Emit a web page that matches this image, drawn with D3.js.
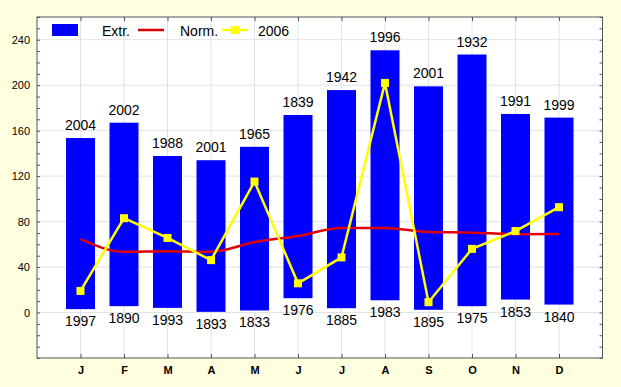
<!DOCTYPE html>
<html>
<head>
<meta charset="utf-8">
<script src="https://cdn.jsdelivr.net/npm/d3@7"></script>
<style>
  body { margin: 0; background: #ffffe0; }
  svg { display: block; font-family: "Liberation Sans", Arial, sans-serif; }
</style>
</head>
<body>
<script>
// data
var months = ['J', 'F', 'M', 'A', 'M', 'J', 'J', 'A', 'S', 'O', 'N', 'D'];
var extrMax = [153.5, 167, 137.7, 134, 145.8, 173.8, 195.7, 230.7, 199, 227, 174.7, 171.5];
var extrMin = [3, 5.6, 4.1, 0.6, 1.8, 12.6, 3.8, 10.8, 2.4, 5.6, 11.4, 7];
var maxYears = ['2004', '2002', '1988', '2001', '1965', '1839', '1942', '1996', '2001', '1932', '1991', '1999'];
var minYears = ['1997', '1890', '1993', '1893', '1833', '1976', '1885', '1983', '1895', '1975', '1853', '1840'];
var norm = [64.5, 53.4, 54, 53.4, 62, 67.4, 74.4, 74.4, 70.9, 70.3, 68.9, 69.1];
var y2006 = [19, 83, 65.6, 46.1, 115.2, 25.7, 48.5, 202, 9.1, 56, 71.7, 92.7];
var yTicks = [0, 40, 80, 120, 160, 200, 240];

var width = 621, height = 387;
var padL = 37, padR = 602.5, padT = 17, padB = 358;

var svg = d3.select('body').append('svg')
  .attr('width', width)
  .attr('height', height);

var idx = d3.range(months.length);

var x = d3.scalePoint().domain(idx).range([padL, padR]).padding(1);
var y = d3.scaleLinear().domain([-40, 260]).range([padB, padT]);

// plot background
svg.append('rect')
  .attr('x', padL).attr('y', padT)
  .attr('width', padR - padL).attr('height', padB - padT)
  .attr('fill', '#fff');

// grid
svg.append('g').selectAll('line').data(yTicks).enter().append('line')
  .attr('x1', padL).attr('x2', padR)
  .attr('y1', function(d) { return y(d); })
  .attr('y2', function(d) { return y(d); })
  .attr('stroke', '#e2e2e2');
svg.append('g').selectAll('line').data(idx).enter().append('line')
  .attr('y1', padT).attr('y2', padB)
  .attr('x1', function(d) { return x(d); })
  .attr('x2', function(d) { return x(d); })
  .attr('stroke', '#e2e2e2');

// axes (ticks pointing inward)
var minor = d3.range(-40, 261, 10);
var yl = d3.axisLeft(y).tickValues(yTicks).tickSize(0).tickPadding(7);
svg.append('g').attr('transform', 'translate(' + padL + ',0)').call(yl)
  .call(function(g) {
    g.select('.domain').remove();
    g.selectAll('text').attr('font-size', 11).attr('fill', '#000')
      .attr('font-family', '"Liberation Sans", Arial, sans-serif');
  });
svg.append('g').attr('transform', 'translate(' + padL + ',0)')
  .call(d3.axisRight(y).tickValues(minor).tickSize(3).tickFormat(''))
  .call(function(g) { g.select('.domain').remove(); g.selectAll('line').attr('stroke', '#555'); });
svg.append('g').attr('transform', 'translate(' + padR + ',0)')
  .call(d3.axisLeft(y).tickValues(minor).tickSize(3).tickFormat(''))
  .call(function(g) { g.select('.domain').remove(); g.selectAll('line').attr('stroke', '#555'); });

svg.append('g').attr('transform', 'translate(0,' + padB + ')')
  .call(d3.axisBottom(x).tickSize(0).tickPadding(8).tickFormat(function(d) { return months[d]; }))
  .call(function(g) {
    g.select('.domain').remove();
    g.selectAll('text').attr('font-size', 11).attr('font-weight', 'bold').attr('fill', '#000')
      .attr('font-family', '"Liberation Sans", Arial, sans-serif');
  });
svg.append('g').attr('transform', 'translate(0,' + padB + ')')
  .call(d3.axisTop(x).tickSize(4).tickFormat(''))
  .call(function(g) { g.select('.domain').remove(); g.selectAll('line').attr('stroke', '#555'); });
svg.append('g').attr('transform', 'translate(0,' + padT + ')')
  .call(d3.axisBottom(x).tickSize(4).tickFormat(''))
  .call(function(g) { g.select('.domain').remove(); g.selectAll('line').attr('stroke', '#555'); });

// bars
var barW = 29;
svg.append('g').selectAll('rect').data(idx).enter().append('rect')
  .attr('x', function(d) { return x(d) - barW / 2; })
  .attr('y', function(d) { return y(extrMax[d]); })
  .attr('width', barW)
  .attr('height', function(d) { return y(extrMin[d]) - y(extrMax[d]); })
  .attr('fill', '#0000ff');

// year labels
svg.append('g').selectAll('text').data(idx).enter().append('text')
  .attr('x', function(d) { return x(d); })
  .attr('y', function(d) { return y(extrMax[d]) - 8; })
  .attr('text-anchor', 'middle')
  .attr('font-size', 14)
  .text(function(d) { return maxYears[d]; });
svg.append('g').selectAll('text').data(idx).enter().append('text')
  .attr('x', function(d) { return x(d); })
  .attr('y', function(d) { return y(extrMin[d]) + 17; })
  .attr('text-anchor', 'middle')
  .attr('font-size', 14)
  .text(function(d) { return minYears[d]; });

// norm line
var normLine = d3.line()
  .x(function(d) { return x(d); })
  .y(function(d) { return y(norm[d]); })
  .curve(d3.curveMonotoneX);
svg.append('path').datum(idx)
  .attr('d', normLine)
  .attr('fill', 'none')
  .attr('stroke', '#e00000')
  .attr('stroke-width', 2.5);

// 2006 line
var line06 = d3.line()
  .x(function(d) { return x(d); })
  .y(function(d) { return y(y2006[d]); });
svg.append('path').datum(idx)
  .attr('d', line06)
  .attr('fill', 'none')
  .attr('stroke', '#ffff00')
  .attr('stroke-width', 2.5);
svg.append('g').selectAll('rect').data(idx).enter().append('rect')
  .attr('x', function(d) { return x(d) - 4; })
  .attr('y', function(d) { return y(y2006[d]) - 4; })
  .attr('width', 8).attr('height', 8)
  .attr('fill', '#ffff00');

// frame
svg.append('rect')
  .attr('x', padL).attr('y', padT)
  .attr('width', padR - padL).attr('height', padB - padT)
  .attr('fill', 'none')
  .attr('stroke', '#555')
  .attr('stroke-width', 1);

// legend
var lg = svg.append('g').attr('font-size', 14);
lg.append('rect').attr('x', 52).attr('y', 24).attr('width', 26).attr('height', 12).attr('fill', '#0000ff');
lg.append('text').attr('x', 102).attr('y', 36).text('Extr.');
lg.append('line').attr('x1', 138).attr('x2', 164).attr('y1', 30).attr('y2', 30)
  .attr('stroke', '#e00000').attr('stroke-width', 2.5);
lg.append('text').attr('x', 180).attr('y', 36).text('Norm.');
lg.append('line').attr('x1', 222).attr('x2', 248).attr('y1', 30).attr('y2', 30)
  .attr('stroke', '#ffff00').attr('stroke-width', 2.5);
lg.append('rect').attr('x', 231).attr('y', 26).attr('width', 8).attr('height', 8).attr('fill', '#ffff00');
lg.append('text').attr('x', 258).attr('y', 36).text('2006');
</script>
</body>
</html>
